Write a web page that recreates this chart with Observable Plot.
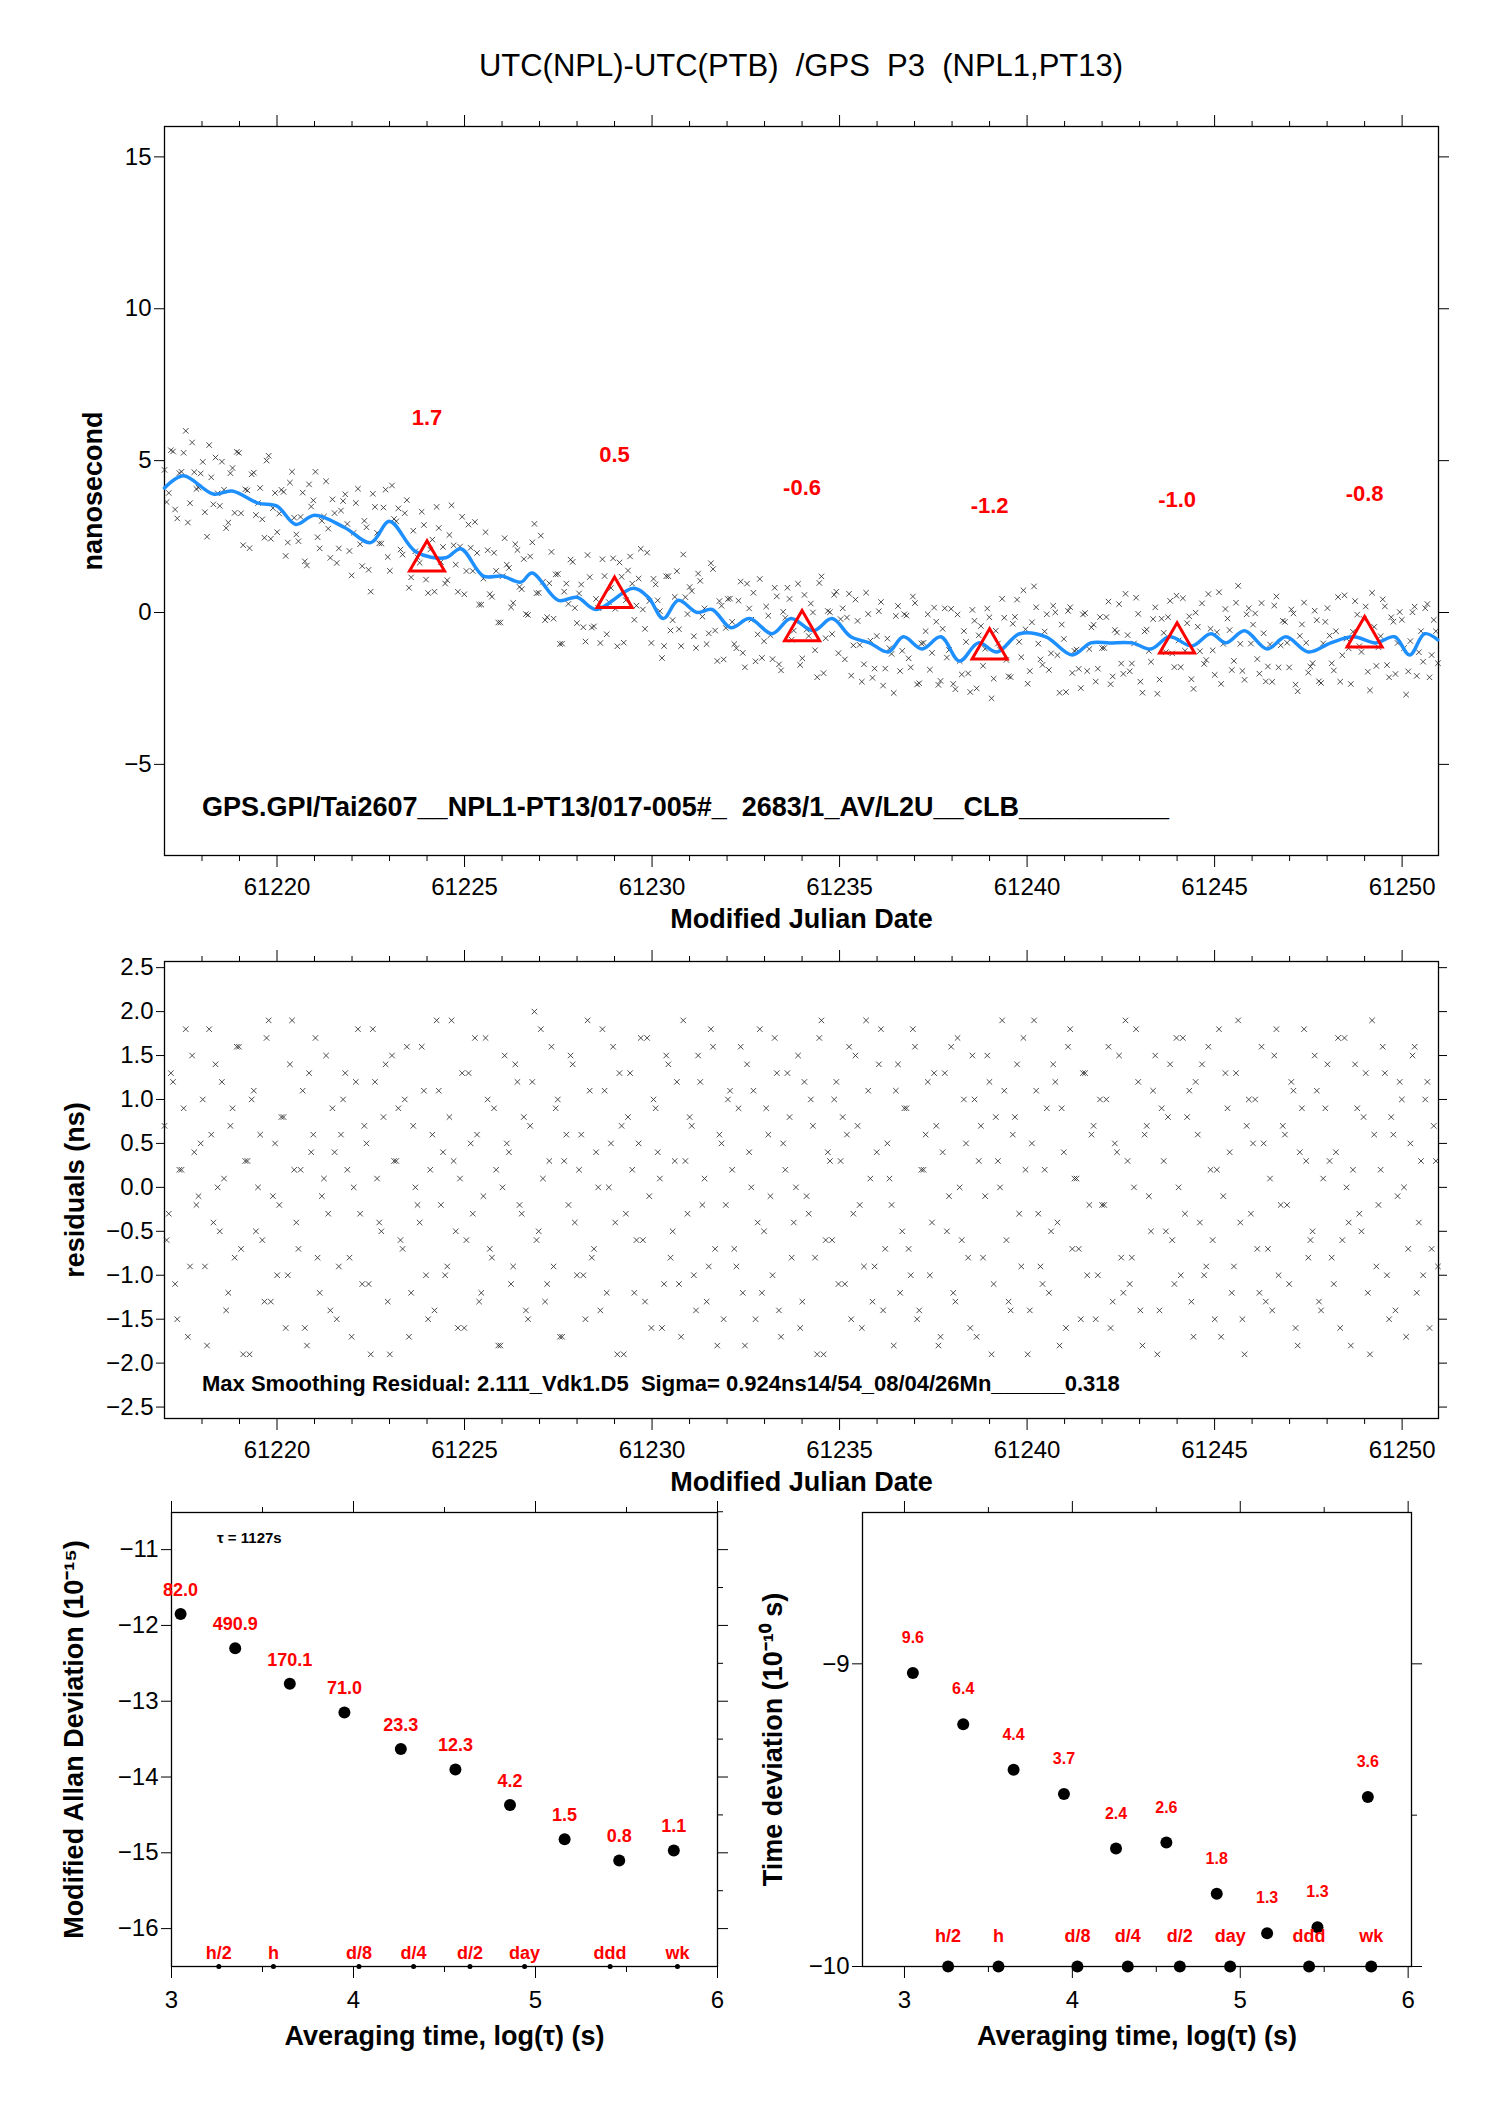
<!DOCTYPE html>
<html><head><meta charset="utf-8">
<script src="https://cdn.jsdelivr.net/npm/d3@7"></script>
<script src="https://cdn.jsdelivr.net/npm/@observablehq/plot@0.6"></script>
<style>
body{margin:0;background:#fff;font-family:"Liberation Sans",Arial,sans-serif;}
.p{position:absolute;}
svg{background:transparent !important;}
svg g[aria-label$="axis label"] text{font-weight:bold;font-size:27px;}
#title{position:absolute;z-index:5;top:48px;left:164px;width:1274px;text-align:center;font-size:31px;}
</style></head><body>
<div id="title">UTC(NPL)-UTC(PTB)&nbsp; /GPS&nbsp; P3&nbsp; (NPL1,PT13)</div>
<div id="a" class="p" style="left:0;top:0"></div>
<div id="b" class="p" style="left:0;top:930px"></div>
<div id="c" class="p" style="left:0;top:1480px"></div>
<div id="d" class="p" style="left:744px;top:1480px"></div>
<script>
// smoothed curve knots (MJD, ns)
const curveT=[61217,61217.5,61218.3,61218.8,61219.5,61220,61220.5,61221,61221.8,61222.5,61223,61223.7,61224.5,61224.9,61225.5,61226,61226.5,61226.8,61227.5,61228,61228.5,61229.5,61229.9,61230.3,61230.7,61231.2,61231.6,61232.1,61232.6,61233.2,61233.7,61234.3,61234.8,61235.3,61235.8,61236.3,61236.7,61237.2,61237.7,61238.2,61238.7,61239.2,61239.8,61240.5,61241.2,61241.7,61242.2,61242.8,61243.3,61243.8,61244.4,61244.9,61245.3,61245.8,61246.4,61246.9,61247.5,61248.1,61248.7,61249.3,61249.8,61250.2,61250.6,61250.95];
const curveV=[4.1,4.5,3.9,4.0,3.6,3.5,2.9,3.2,2.8,2.3,3.0,2.0,1.8,2.1,1.2,1.2,1.0,1.3,0.4,0.5,0.1,0.8,0.5,-0.2,0.4,0.0,0.1,-0.5,-0.2,-0.7,-0.2,-0.6,-0.2,-0.8,-1.0,-1.3,-0.8,-1.2,-0.8,-1.6,-1.0,-1.3,-0.7,-0.8,-1.4,-1.0,-1.0,-1.0,-1.2,-0.8,-1.1,-0.7,-1.0,-0.6,-1.2,-0.8,-1.3,-1.0,-0.8,-1.0,-0.8,-1.4,-0.7,-0.9];
// residuals (ns), first pass
const resid=[
0.7,-0.3,1.2,-1.5,0.2,1.8,-0.9,0.4,-0.1,1.0,-1.8,0.6,1.4,-0.5,0.1,-1.2,0.9,1.6,-0.7,0.3,
-1.9,1.1,0.0,-0.6,1.7,-1.3,0.5,-0.2,0.8,-1.0,1.9,-0.4,0.2,-1.6,1.3,0.6,-0.8,-0.1,1.5,-1.4,
0.4,-0.9,1.0,0.2,-1.7,1.2,-0.3,0.7,-1.1,1.8,0.1,-0.5,1.4,-1.9,0.3,0.9,-0.7,1.6,-1.2,0.0,
-0.4,1.1,-1.5,0.6,1.9,-0.2,-1.0,0.8,0.3,-1.6,1.3,-0.6,0.5,1.7,-1.3,-0.1,1.0,-0.8,0.2,-1.8,
1.5,0.4,-0.9,1.2,-0.3,-1.4,0.7,2.0,-0.5,0.1,-1.1,1.6,0.9,-1.7,0.3,-0.2,1.4,-1.0,0.6,-1.5,
1.1,-0.7,0.0,1.8,-1.2,0.5,-0.4,1.3,-1.9,0.8,0.2,-0.6,1.7,-1.3,-0.1,1.0,0.4,-1.6,1.5,-0.8,
0.3,-1.1,1.9,-0.3,0.7,-1.4,1.2,0.1,-0.9,1.6,-1.8,0.5,-0.2,1.1,-0.7,0.9,-1.2,1.4,0.0,-1.5,
1.8,-0.5,0.6,-1.0,1.3,-1.7,0.2,0.8,-0.4,1.5,-1.3,-0.1,1.0,-0.8,1.7,-1.9,0.4,-0.6,1.2,0.3,
-1.1,1.6,-0.3,0.7,-1.6,1.9,0.1,-0.9,1.4,-1.4,0.5,-0.2,1.1,-1.2,0.9,-0.7,1.8,-1.5,0.2,0.6,
-1.0,1.3,-1.8,0.4,-0.5,1.6,-1.3,0.0,1.0,-0.8,1.5,-1.7,0.7,-0.1,1.2,-1.1,0.3,1.9,-0.6,-1.4,
0.8,-0.3,1.7,-1.9,0.5,1.1,-0.9,0.2,-1.2,1.4,-0.4,0.9,-1.6,1.8,0.1,-0.7,1.3,-1.0,0.6,-1.5,
1.0,-0.2,1.6,-1.3,0.4,-0.8,1.9,-1.1,0.0,1.2,-1.8,0.7,-0.5,1.5,-1.4,0.3,0.8,-0.6,1.7,-1.0,
-0.3,1.1,-1.7,0.6,1.4,-0.9,0.2,-1.5,1.8,-0.1,0.9,-1.2,1.3,-0.4,-1.9,1.0,0.5,-0.7,1.6,-1.3,
0.1,1.5,-1.0,0.7,-0.2,1.2,-1.6,0.4,1.8,-0.8,-0.5,1.1,-1.4,0.9,0.3,-1.1,1.7,-0.6,0.0,-1.8,
1.4,-0.3,0.8,-1.2,1.9,-0.9,0.2,1.3,-1.5,0.6,-0.1,1.0,-1.7,0.5,1.6,-0.4,-1.0,1.2,-0.7,0.3];
// residuals (ns), second pass (interleaved epochs)
const resid2=[
-0.6,1.3,-1.1,0.2,0.9,-1.7,1.5,-0.2,0.5,-0.9,1.8,-0.4,0.0,1.2,-1.4,0.7,-0.8,1.6,-1.9,0.3,
1.0,-0.5,0.6,-1.3,1.9,-0.1,-1.0,0.8,-1.6,1.4,0.2,-0.7,1.1,-1.8,0.4,1.7,-1.2,0.1,-0.3,0.9,
-1.5,0.6,1.3,-0.8,0.0,1.8,-1.1,0.5,-1.9,1.2,-0.4,0.8,-1.3,1.5,0.3,-0.6,1.0,-1.7,0.7,-0.2,
1.6,-1.0,0.2,-1.4,1.1,0.4,-0.9,1.9,-0.5,0.1,-1.6,1.3,-0.3,0.6,-1.2,1.7,-0.7,0.9,-1.8,0.0,
0.5,-1.1,1.4,-0.2,0.8,-1.5,1.2,-0.6,1.8,-1.3,0.3,-0.9,1.0,-1.7,0.6,1.5,-0.4,0.2,-1.0,1.9,
-0.8,0.4,-1.4,1.1,0.0,1.6,-1.9,0.7,-0.3,1.3,-1.2,0.5,-0.6,1.7,-1.6,0.9,0.1,-1.1,1.4,-0.5,
1.2,-1.7,0.3,0.8,-1.0,1.5,-0.2,-1.3,1.8,-0.7,0.6,-1.5,1.0,0.2,-0.9,1.6,-1.8,0.4,1.1,-0.4,
-1.2,0.9,-0.1,1.7,-1.4,0.5,1.3,-0.8,0.0,-1.6,1.2,-0.3,0.7,-1.9,1.9,-0.6,0.3,1.0,-1.1,0.8,
0.6,-1.5,1.5,-0.2,-0.9,1.1,-1.3,0.4,1.8,-0.7,0.1,-1.8,1.4,-0.5,0.9,-1.0,1.6,-1.4,0.2,1.2,
-0.4,0.7,-1.7,1.3,-0.1,-1.2,1.7,-0.6,0.5,-1.6,1.0,0.3,-0.8,1.5,-1.9,0.8,0.0,1.1,-1.3,0.6,
1.4,-0.9,0.2,-1.4,1.9,-0.3,-1.1,0.9,-0.5,1.2,-1.8,0.4,1.6,-0.7,0.1,-1.5,1.3,-0.2,0.7,-1.0,
-0.2,1.0,-1.6,0.5,1.5,-1.2,0.3,-0.8,1.8,-1.4,0.6,-0.1,1.1,-1.9,0.9,-0.5,1.4,-1.1,0.0,1.7,
0.8,-1.3,1.2,-0.4,-1.0,1.6,-0.6,0.2,-1.7,1.3,0.4,-0.9,1.9,-1.5,0.7,-0.3,1.0,-1.2,0.5,-0.7,
-1.4,1.8,-0.2,0.6,-1.1,1.1,-1.8,0.9,0.3,-0.6,1.5,-1.3,0.1,1.4,-0.8,0.4,-1.6,1.7,-0.4,0.2,
0.9,-0.5,1.3,-1.9,0.6,-0.2,1.6,-1.0,0.8,-1.4,1.2,0.0,-0.7,1.5,-1.2,0.3,1.0,-1.6,0.7,-0.9];
// triangle markers
const triT=[61224,61229,61234,61239,61244,61249];
const triV=[1.7,0.5,-0.6,-1.2,-1.0,-0.8];
const triLab=["1.7","0.5","-0.6","-1.2","-1.0","-0.8"];
// Allan / time deviation
const logTau=[3.05,3.35,3.65,3.95,4.26,4.56,4.86,5.16,5.46,5.76];
const madev=[-11.85,-12.3,-12.77,-13.15,-13.63,-13.9,-14.37,-14.82,-15.1,-14.97];
const madevLab=["82.0","490.9","170.1","71.0","23.3","12.3","4.2","1.5","0.8","1.1"];
const tdev=[-9.03,-9.2,-9.35,-9.43,-9.61,-9.59,-9.76,-9.89,-9.87,-9.44];
const tdevLab=["9.6","6.4","4.4","3.7","2.4","2.6","1.8","1.3","1.3","3.6"];
const mkX=[3.26,3.56,4.03,4.33,4.64,4.94,5.41,5.78];
const mkLab=["h/2","h","d/8","d/4","d/2","day","ddd","wk"];

const t0=61217.0,t1=61250.9;
const curve=d3.scaleLinear().domain(curveT).range(curveV);
const n=resid.length, dt=(t1-t0)/(n-1);
const resPts=resid.map((r,i)=>({t:t0+i*dt,r})).concat(resid2.map((r,i)=>({t:t0+(i+0.5)*dt,r})));
const topPts=resPts.map(d=>({t:d.t,v:curve(d.t)+d.r*0.85}));
const curveData=curveT.map((t,i)=>({t,v:curveV[i]}));
const tri=triT.map((t,i)=>({t,v:triV[i],lab:triLab[i]}));
const style={fontSize:"24px",fontFamily:"Liberation Sans, Arial, sans-serif"};
const mjdMajor=[61220,61225,61230,61235,61240,61245,61250];
const mjdMinor=d3.range(61218,61251,1).filter(d=>d%5!==0);
const fmt=d=>d<0?"\u2212"+Math.abs(d):String(d);
const none=()=>"";
const xax=()=>[
  Plot.axisX({ticks:mjdMajor,tickFormat:d=>String(d),tickSize:12,label:"Modified Julian Date",labelAnchor:"center",labelArrow:"none",labelOffset:72,tickPadding:10}),
  Plot.axisX({anchor:"bottom",ticks:mjdMinor,tickFormat:none,tickSize:6,label:null}),
  Plot.axisX({anchor:"top",ticks:mjdMajor,tickFormat:none,tickSize:12,label:null}),
  Plot.axisX({anchor:"top",ticks:mjdMinor,tickFormat:none,tickSize:6,label:null})];
const lax=()=>[
  Plot.axisX({ticks:[3,4,5,6],tickFormat:d=>String(d),tickSize:12,label:"Averaging time, log(\u03c4) (s)",labelAnchor:"center",labelArrow:"none",labelOffset:78,tickPadding:12}),
  Plot.axisX({anchor:"bottom",ticks:[3.5,4.5,5.5],tickFormat:none,tickSize:6,label:null}),
  Plot.axisX({anchor:"top",ticks:[3,4,5,6],tickFormat:none,tickSize:12,label:null}),
  Plot.axisX({anchor:"top",ticks:[3.5,4.5,5.5],tickFormat:none,tickSize:6,label:null})];

const A=Plot.plot({width:1488,height:960,marginLeft:164,marginRight:50,marginTop:126,marginBottom:105,style,
 x:{domain:[61217,61250.97]},y:{domain:[-8,16]},
 marks:[
  Plot.frame({strokeWidth:1.3}),
  Plot.dot(topPts,{x:"t",y:"v",symbol:"times",r:2.6,stroke:"#222",strokeWidth:0.8}),
  Plot.line(curveData,{x:"t",y:"v",curve:"catmull-rom",stroke:"#1e8fff",strokeWidth:3.5}),
  Plot.dot(tri,{x:"t",y:"v",symbol:"triangle",r:13,stroke:"#f00",strokeWidth:3,fill:"none"}),
  Plot.text(tri,{x:"t",y:d=>d.v+4.7,text:"lab",fill:"#f00",fontWeight:"bold",fontSize:22}),
  Plot.text(["GPS.GPI/Tai2607__NPL1-PT13/017-005#_  2683/1_AV/L2U__CLB__________"],{x:61218,y:-6.4,text:d=>d,textAnchor:"start",fontWeight:"bold",fontSize:27}),
  ...xax(),
  Plot.axisY({ticks:[15,10,5,0,-5],tickFormat:fmt,tickSize:10,label:"nanosecond",labelAnchor:"center",labelArrow:"none",labelOffset:82}),
  Plot.axisY({anchor:"right",ticks:[15,10,5,0,-5],tickFormat:none,tickSize:10,label:null})
 ]});
document.getElementById("a").append(A);

const yt=[2.5,2,1.5,1,0.5,0,-0.5,-1,-1.5,-2,-2.5];
const B=Plot.plot({width:1488,height:570,marginLeft:164,marginRight:50,marginTop:31,marginBottom:82,style,
 x:{domain:[61217,61250.97]},y:{domain:[-2.63,2.57]},
 marks:[
  Plot.frame({strokeWidth:1.3}),
  Plot.dot(resPts,{x:"t",y:"r",symbol:"times",r:2.6,stroke:"#222",strokeWidth:0.8}),
  Plot.text(["Max Smoothing Residual: 2.111_Vdk1.D5  Sigma= 0.924ns14/54_08/04/26Mn______0.318"],{x:61218,y:-2.24,text:d=>d,textAnchor:"start",fontWeight:"bold",fontSize:22}),
  ...xax(),
  Plot.axisY({ticks:yt,tickFormat:d=>(d<0?"\u2212":"")+Math.abs(d).toFixed(1),tickSize:8,label:"residuals (ns)",labelAnchor:"center",labelArrow:"none",labelOffset:100}),
  Plot.axisY({anchor:"right",ticks:yt,tickFormat:none,tickSize:8,label:null})
 ]});
document.getElementById("b").append(B);

const md=logTau.map((x,i)=>({x,y:madev[i],lab:madevLab[i]}));
const C=Plot.plot({width:744,height:620,marginLeft:171,marginRight:27,marginTop:32,marginBottom:134,style,
 x:{domain:[3,6]},y:{domain:[-16.5,-10.51]},
 marks:[
  Plot.frame({strokeWidth:1.3}),
  Plot.dot(md,{x:"x",y:"y",r:6,fill:"#000"}),
  Plot.text(md,{x:"x",y:"y",dy:-24,text:"lab",fill:"#f00",fontWeight:"bold",fontSize:18}),
  Plot.dot(mkX,{x:d=>d,y:-16.5,r:2.5,fill:"#000"}),
  Plot.text(mkX,{x:d=>d,y:-16.32,text:(d,i)=>mkLab[i],fill:"#f00",fontWeight:"bold",fontSize:18}),
  Plot.text(["\u03c4 = 1127s"],{x:3.25,y:-10.85,text:d=>d,textAnchor:"start",fontWeight:"bold",fontSize:15}),
  ...lax(),
  Plot.axisY({ticks:[-11,-12,-13,-14,-15,-16],tickFormat:fmt,tickSize:10,label:"Modified Allan Deviation (10\u207b\u00b9\u2075)",labelAnchor:"center",labelArrow:"none",labelOffset:108}),
  Plot.axisY({anchor:"right",ticks:[-11,-12,-13,-14,-15,-16],tickFormat:none,tickSize:10,label:null}),
  Plot.axisY({anchor:"right",ticks:[-10.5,-11.5,-12.5,-13.5,-14.5,-15.5],tickFormat:none,tickSize:5,label:null})
 ]});
document.getElementById("c").append(C);

const td=logTau.map((x,i)=>({x,y:tdev[i],lab:tdevLab[i]}));
const D=Plot.plot({width:744,height:620,marginLeft:118,marginRight:77,marginTop:32,marginBottom:134,style,
 x:{domain:[2.75,6.02]},y:{domain:[-10,-8.5]},
 marks:[
  Plot.frame({strokeWidth:1.3}),
  Plot.dot(td,{x:"x",y:"y",r:6,fill:"#000"}),
  Plot.text(td,{x:"x",y:"y",dy:-35,text:"lab",fill:"#f00",fontWeight:"bold",fontSize:16}),
  Plot.dot(mkX,{x:d=>d,y:-10,r:6,fill:"#000"}),
  Plot.text(mkX,{x:d=>d,y:-9.9,text:(d,i)=>mkLab[i],fill:"#f00",fontWeight:"bold",fontSize:18}),
  ...lax(),
  Plot.axisY({ticks:[-9,-10],tickFormat:fmt,tickSize:10,label:"Time deviation (10\u207b\u00b9\u2070 s)",labelAnchor:"center",labelArrow:"none",labelOffset:100}),
  Plot.axisY({anchor:"right",ticks:[-9,-10],tickFormat:none,tickSize:10,label:null}),
  Plot.axisY({anchor:"right",ticks:[-9.5],tickFormat:none,tickSize:5,label:null})
 ]});
document.getElementById("d").append(D);
</script></body></html>
